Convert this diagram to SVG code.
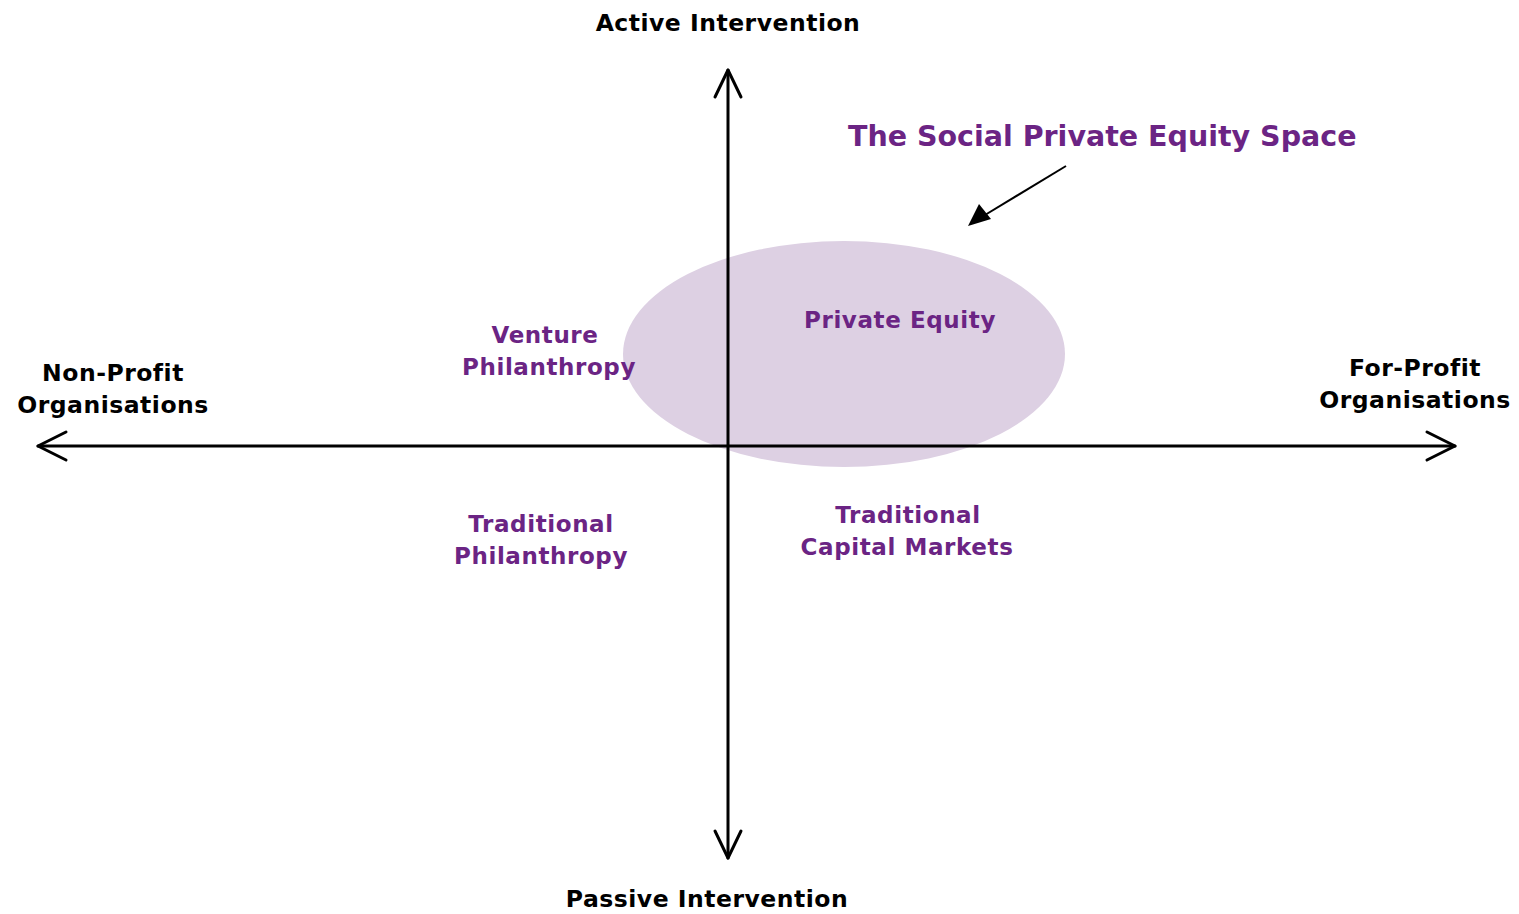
<svg xmlns="http://www.w3.org/2000/svg" width="1519" height="914" viewBox="0 0 1519 914">
<style>
.lbl{font-family:"DejaVu Sans","Liberation Sans",sans-serif;font-weight:bold;font-size:23.5px;letter-spacing:0.5px;text-anchor:middle;fill:#000}
.p{fill:#6b2484;font-size:23px;letter-spacing:0.6px}
.title{font-size:28.5px;letter-spacing:0;text-anchor:start}
.ax{stroke:#000;stroke-width:3;fill:none;stroke-linecap:round;stroke-linejoin:round}
</style>
<rect width="1519" height="914" fill="#fff"/>
<g id="space">
<ellipse cx="844" cy="354" rx="221" ry="113" fill="#ddd0e3"/>
</g>
<g id="connectors">
<line class="ax" x1="728" y1="70" x2="728" y2="858"/>
<polyline class="ax" points="715,97 728,70 741,97"/>
<polyline class="ax" points="715,831 728,858 741,831"/>
<line class="ax" x1="38" y1="446" x2="1455" y2="446"/>
<polyline class="ax" points="66,432 38,446 66,460"/>
<polyline class="ax" points="1427,432 1455,446 1427,460"/>
<line x1="1066" y1="166" x2="985" y2="215" stroke="#000" stroke-width="2"/>
<polygon points="968,226 979,204 991,219" fill="#000"/>
</g>
<g id="active"><text class="lbl" x="728" y="31">Active Intervention</text></g>
<g id="passive"><text class="lbl" x="707" y="907">Passive Intervention</text></g>
<g id="nonprofit"><text class="lbl" x="113" y="381">Non-Profit</text><text class="lbl" x="113" y="413">Organisations</text></g>
<g id="forprofit"><text class="lbl" x="1415" y="376">For-Profit</text><text class="lbl" x="1415" y="408">Organisations</text></g>
<g id="title"><text class="lbl p title" x="848" y="146">The Social Private Equity Space</text></g>
<g id="venture"><text class="lbl p" x="545" y="343">Venture</text><text class="lbl p" x="549" y="375">Philanthropy</text></g>
<g id="pe"><text class="lbl p" x="900" y="328">Private Equity</text></g>
<g id="tradphil"><text class="lbl p" x="541" y="532">Traditional</text><text class="lbl p" x="541" y="564">Philanthropy</text></g>
<g id="tradcap"><text class="lbl p" x="908" y="523">Traditional</text><text class="lbl p" x="907" y="555">Capital Markets</text></g>
</svg>
